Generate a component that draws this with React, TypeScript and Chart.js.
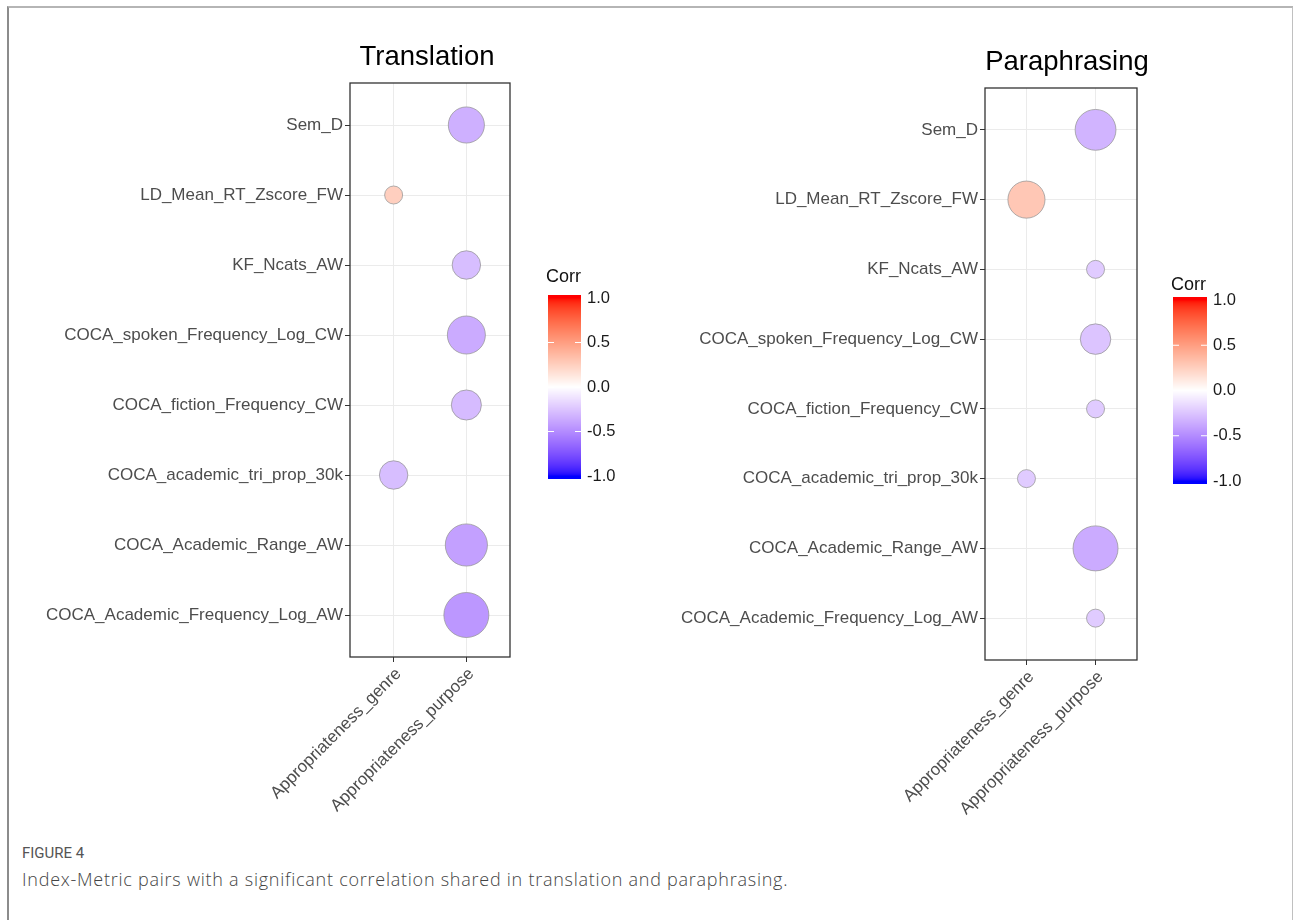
import React, { useEffect, useRef } from 'react';
import { Chart, registerables } from 'chart.js';

Chart.register(...registerables);

// ---------------- data ----------------
const metrics = [
  'Sem_D',
  'LD_Mean_RT_Zscore_FW',
  'KF_Ncats_AW',
  'COCA_spoken_Frequency_Log_CW',
  'COCA_fiction_Frequency_CW',
  'COCA_academic_tri_prop_30k',
  'COCA_Academic_Range_AW',
  'COCA_Academic_Frequency_Log_AW',
];
const appropriatenessLabels = ['Appropriateness_genre', 'Appropriateness_purpose'];

const translationGenre = [null, 0.25, null, null, null, -0.28, null, null];
const translationPurpose = [-0.34, null, -0.28, -0.36, -0.29, null, -0.41, -0.45];

const paraphrasingGenre = [null, 0.29, null, null, null, -0.22, null, null];
const paraphrasingPurpose = [-0.32, null, -0.22, -0.25, -0.22, null, -0.36, -0.22];

const corrTicks = [1.0, 0.5, 0.0, -0.5, -1.0];

// ---------------- colour scale (white -> blue / red in Lab) ----------------
function toLin(c: number) {
  c /= 255;
  return c <= 0.04045 ? c / 12.92 : Math.pow((c + 0.055) / 1.055, 2.4);
}
function fromLin(c: number) {
  const v = c <= 0.0031308 ? 12.92 * c : 1.055 * Math.pow(c, 1 / 2.4) - 0.055;
  return Math.round(Math.max(0, Math.min(1, v)) * 255);
}
function rgbToLab(rgb: number[]) {
  const r = toLin(rgb[0]), g = toLin(rgb[1]), b = toLin(rgb[2]);
  const X = (0.4124 * r + 0.3576 * g + 0.1805 * b) / 0.95047;
  const Y = 0.2126 * r + 0.7152 * g + 0.0722 * b;
  const Z = (0.0193 * r + 0.1192 * g + 0.9505 * b) / 1.08883;
  const f = (t: number) => (t > 0.008856 ? Math.cbrt(t) : 7.787 * t + 16 / 116);
  const fx = f(X), fy = f(Y), fz = f(Z);
  return [116 * fy - 16, 500 * (fx - fy), 200 * (fy - fz)];
}
function labToRgb(lab: number[]) {
  const fy = (lab[0] + 16) / 116;
  const fx = fy + lab[1] / 500;
  const fz = fy - lab[2] / 200;
  const inv = (t: number) => (t * t * t > 0.008856 ? t * t * t : (t - 16 / 116) / 7.787);
  const X = inv(fx) * 0.95047, Y = inv(fy), Z = inv(fz) * 1.08883;
  const r = 3.2406 * X - 1.5372 * Y - 0.4986 * Z;
  const g = -0.9689 * X + 1.8758 * Y + 0.0415 * Z;
  const b = 0.0557 * X - 0.204 * Y + 1.057 * Z;
  return [fromLin(r), fromLin(g), fromLin(b)];
}
const WHITE_LAB = rgbToLab([255, 255, 255]);
const BLUE_LAB = rgbToLab([0, 0, 255]);
const RED_LAB = rgbToLab([255, 0, 0]);
function corrColor(v: number) {
  const t = Math.min(1, Math.abs(v));
  const end = v < 0 ? BLUE_LAB : RED_LAB;
  const lab = WHITE_LAB.map((w, i) => w + (end[i] - w) * t);
  const c = labToRgb(lab);
  return `rgb(${c[0]},${c[1]},${c[2]})`;
}

// size scale like ggplot's scale_size(range): area-proportional over the panel's |corr| range
const R_MIN = 9;
const R_MAX = 22.5;
function makeRadius(values: number[]) {
  const abs = values.map((v) => Math.abs(v));
  const lo = Math.min(...abs);
  const hi = Math.max(...abs);
  return (v: number) => {
    const t = hi > lo ? (Math.abs(v) - lo) / (hi - lo) : 1;
    return R_MIN + (R_MAX - R_MIN) * Math.sqrt(t);
  };
}

// ---------------- panel layout ----------------
const FONT = "'Liberation Sans', Arial, sans-serif";

type Panel = {
  title: string;
  genre: (number | null)[];
  purpose: (number | null)[];
  canvasLeft: number;
  canvasWidth: number;
  canvasHeight: number;
  area: { left: number; right: number; top: number; bottom: number };
  titleX: number;
  titleY: number;
  legend: { x: number; w: number; y1: number; y2: number; corrY: number };
};

const panels: Panel[] = [
  {
    title: 'Translation',
    genre: translationGenre,
    purpose: translationPurpose,
    canvasLeft: 0,
    canvasWidth: 650,
    canvasHeight: 830,
    area: { left: 350, right: 510, top: 83, bottom: 657 },
    titleX: 427,
    titleY: 57,
    legend: { x: 548, w: 33, y1: 298, y2: 476, corrY: 277 },
  },
  {
    title: 'Paraphrasing',
    genre: paraphrasingGenre,
    purpose: paraphrasingPurpose,
    canvasLeft: 650,
    canvasWidth: 643,
    canvasHeight: 830,
    area: { left: 985, right: 1137, top: 88, bottom: 660 },
    titleX: 1067,
    titleY: 62,
    legend: { x: 1173, w: 34, y1: 300, y2: 481, corrY: 285 },
  },
];

function buildPoints(p: Panel) {
  const all = [...p.genre, ...p.purpose].filter((v) => v !== null) as number[];
  const radius = makeRadius(all);
  const pts: any[] = [];
  [p.genre, p.purpose].forEach((col, ci) => {
    col.forEach((v, ri) => {
      if (v !== null) pts.push({ x: ci + 1, y: ri + 1, r: radius(v), v });
    });
  });
  return pts;
}

function PanelChart({ p }: { p: Panel }) {
  const ref = useRef<HTMLCanvasElement | null>(null);
  useEffect(() => {
    if (!ref.current) return;
    const off = p.canvasLeft;
    const decor = {
      id: 'decor',
      afterDraw(chart: any) {
        const ctx = chart.ctx;
        const a = chart.chartArea;
        ctx.save();
        // panel border
        ctx.strokeStyle = '#333333';
        ctx.lineWidth = 1.3;
        ctx.strokeRect(a.left, a.top, a.right - a.left, a.bottom - a.top);
        // title
        ctx.fillStyle = '#000000';
        ctx.font = `27.5px ${FONT}`;
        ctx.textAlign = 'center';
        ctx.textBaseline = 'middle';
        ctx.fillText(p.title, p.titleX - off, p.titleY);
        // legend
        const L = p.legend;
        const lx = L.x - off;
        ctx.font = `18px ${FONT}`;
        ctx.textAlign = 'left';
        ctx.fillStyle = '#111111';
        ctx.fillText('Corr', lx - 2, L.corrY);
        const ext = 3;
        for (let y = L.y1 - ext; y < L.y2 + ext; y++) {
          let v = 1 - (2 * (y + 0.5 - L.y1)) / (L.y2 - L.y1);
          v = Math.max(-1, Math.min(1, v));
          ctx.fillStyle = corrColor(v);
          ctx.fillRect(lx, y, L.w, 1);
        }
        ctx.font = `16.5px ${FONT}`;
        corrTicks.forEach((t) => {
          const y = L.y1 + ((1 - t) / 2) * (L.y2 - L.y1);
          if (t < 1 && t > -1) {
            ctx.strokeStyle = '#ffffff';
            ctx.lineWidth = 1;
            ctx.beginPath();
            ctx.moveTo(lx, y);
            ctx.lineTo(lx + 6, y);
            ctx.moveTo(lx + L.w - 6, y);
            ctx.lineTo(lx + L.w, y);
            ctx.stroke();
          }
          ctx.fillStyle = '#1a1a1a';
          ctx.textBaseline = 'middle';
          ctx.fillText(t.toFixed(1), lx + L.w + 6, y);
        });
        ctx.restore();
      },
    };
    const chart = new Chart(ref.current, {
      type: 'bubble',
      data: {
        datasets: [
          {
            data: buildPoints(p),
            backgroundColor: (c: any) => (c.raw ? corrColor(c.raw.v) : '#ccc'),
            borderColor: 'rgba(150,150,150,0.75)',
            borderWidth: 1,
          },
        ],
      },
      options: {
        animation: false,
        responsive: false,
        maintainAspectRatio: false,
        layout: {
          padding: {
            top: p.area.top,
            left: 0,
            right: p.canvasLeft + p.canvasWidth - p.area.right,
            bottom: 0,
          },
        },
        plugins: {
          legend: { display: false },
          tooltip: { enabled: false },
          title: { display: false },
        },
        scales: {
          x: {
            type: 'linear',
            min: 0.4,
            max: 2.6,
            afterBuildTicks: (s: any) => {
              s.ticks = appropriatenessLabels.map((_, i) => ({ value: i + 1 }));
            },
            afterFit: (s: any) => {
              s.height = p.canvasHeight - p.area.bottom;
            },
            ticks: {
              autoSkip: false,
              minRotation: 45,
              maxRotation: 45,
              padding: 2,
              labelOffset: 5,
              color: '#4d4d4d',
              font: { family: FONT, size: 17 },
              callback: (v: any) => appropriatenessLabels[Math.round(v) - 1] ?? '',
            },
            grid: { color: '#ebebeb', lineWidth: 1, tickColor: '#333333', tickLength: 5 },
            border: { display: false },
          },
          y: {
            type: 'linear',
            reverse: true,
            min: 0.4,
            max: 8.6,
            afterBuildTicks: (s: any) => {
              s.ticks = metrics.map((_, i) => ({ value: i + 1 }));
            },
            afterFit: (s: any) => {
              s.width = p.area.left - p.canvasLeft;
            },
            ticks: {
              autoSkip: false,
              padding: 2,
              color: '#4d4d4d',
              font: { family: FONT, size: 17 },
              callback: (v: any) => metrics[Math.round(v) - 1] ?? '',
            },
            grid: { color: '#ebebeb', lineWidth: 1, tickColor: '#333333', tickLength: 5 },
            border: { display: false },
          },
        },
      } as any,
      plugins: [decor],
    });
    return () => chart.destroy();
  }, [p]);
  return (
    <canvas
      ref={ref}
      width={p.canvasWidth}
      height={p.canvasHeight}
      style={{
        position: 'absolute',
        left: p.canvasLeft,
        top: 0,
        width: p.canvasWidth,
        height: p.canvasHeight,
      }}
    />
  );
}

export default function App() {
  return (
    <div
      style={{
        position: 'absolute',
        left: 0,
        top: 0,
        width: 1293,
        height: 920,
        background: '#ffffff',
        overflow: 'hidden',
      }}
    >
      <div
        style={{
          position: 'absolute',
          left: 7,
          top: 6,
          width: 1283,
          height: 940,
          borderTop: '2px solid #b5b5b5',
          borderLeft: '2px solid #8c8c8c',
          borderRight: '2px solid #c0c0c0',
        }}
      />
      {panels.map((p) => (
        <PanelChart key={p.title} p={p} />
      ))}
      <div
        style={{
          position: 'absolute',
          left: 22,
          top: 844,
          fontFamily: "Roboto, 'Noto Sans', sans-serif",
          fontSize: 15,
          color: '#555555',
          whiteSpace: 'nowrap',
        }}
      >
        FIGURE 4
      </div>
      <div
        style={{
          position: 'absolute',
          left: 22,
          top: 867,
          fontFamily: "'Open Sans', 'Noto Sans', sans-serif",
          fontSize: 18,
          fontWeight: 300,
          letterSpacing: '0.75px',
          color: '#444444',
          whiteSpace: 'nowrap',
        }}
      >
        Index-Metric pairs with a significant correlation shared in translation and paraphrasing.
      </div>
    </div>
  );
}
